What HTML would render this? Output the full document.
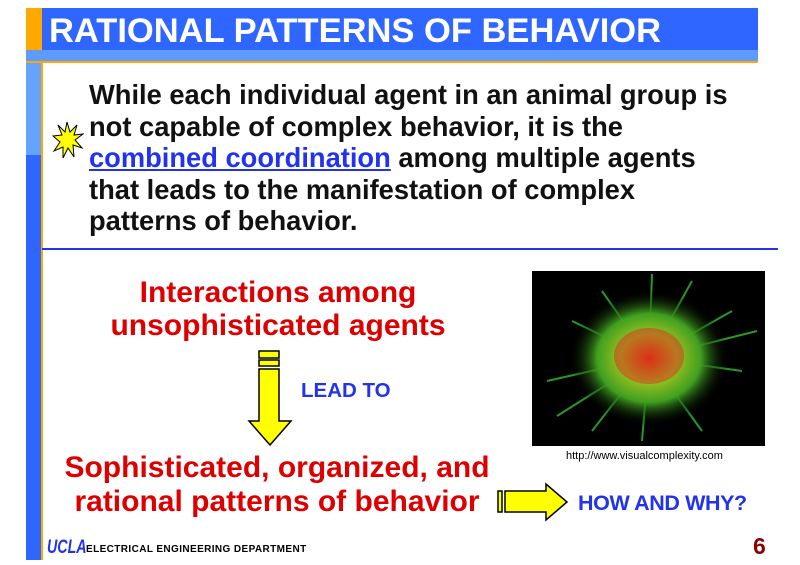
<!DOCTYPE html>
<html><head><meta charset="utf-8"><style>
body{margin:0;width:800px;height:565px;background:#fff;position:relative;overflow:hidden;font-family:"Liberation Sans",Arial,sans-serif}
.a{position:absolute;white-space:nowrap}
.body{left:89px;top:79px;font-size:27.3px;font-weight:bold;line-height:31.6px;color:#111}
.red{color:#dd0000;font-weight:bold;font-size:30px;text-align:center}
</style></head><body>
<div class="a" style="left:26px;top:8px;width:732px;height:42px;background:#2f66ff"></div>
<div class="a" style="left:26px;top:8px;width:16px;height:42px;background:#ffa800"></div>
<div class="a" style="left:26px;top:50px;width:732px;height:11px;background:#5f9bff"></div>
<div class="a" style="left:26px;top:61px;width:732px;height:2px;background:#ffa800"></div>
<div class="a" style="left:26px;top:63px;width:16px;height:92px;background:#66a3ff"></div>
<div class="a" style="left:26px;top:155px;width:16px;height:405px;background:#2f66ff"></div>
<div class="a" style="left:41px;top:63px;width:2px;height:497px;background:#ffa800"></div>
<div class="a" style="left:42px;top:248px;width:736px;height:2px;background:#2233ee"></div>
<div class="a" style="left:49px;top:10px;font-size:34.5px;font-weight:bold;color:#fff;line-height:42px">RATIONAL PATTERNS OF BEHAVIOR</div>
<svg class="a" style="left:52px;top:120px" width="32" height="40" viewBox="0 0 32 40"><polygon points="15,2 18,12 25,5 22,15 31,14 23,20 30,28 21,25 22,37 16,28 11,38 11,27 2,31 8,22 1,16 10,15 6,5 13,12" fill="#ffff00" stroke="#000" stroke-width="1"/></svg>
<div class="a body">While each individual agent in an animal group is<br>not capable of complex behavior, it is the<br><span style="color:#2233ee;text-decoration:underline">combined coordination</span> among multiple agents<br>that leads to the manifestation of complex<br>patterns of behavior.</div>
<div class="a red" style="left:78px;width:400px;top:276px;line-height:33px">Interactions among<br>unsophisticated agents</div>
<svg class="a" style="left:246px;top:349px" width="50" height="100"><rect x="13" y="2" width="20" height="7" fill="#ffff00" stroke="#000" stroke-width="1.5"/><rect x="13" y="11" width="20" height="6" fill="#ffff00" stroke="#000" stroke-width="1.5"/><polygon points="13,20 33,20 33,72 45,72 24,96 3,72 13,72" fill="#ffff00" stroke="#000" stroke-width="1.5"/></svg>
<div class="a" style="left:301px;top:379px;font-size:20.5px;font-weight:bold;color:#2233ee">LEAD TO</div>
<div class="a red" style="left:27px;width:500px;top:451px;line-height:34px">Sophisticated, organized, and<br>rational patterns of behavior</div>
<svg class="a" style="left:495px;top:482px" width="76" height="42"><rect x="3" y="9" width="4" height="21" fill="#ffff00" stroke="#000" stroke-width="1.5"/><polygon points="10,9 51,9 51,2 72,20 51,38 51,30 10,30" fill="#ffff00" stroke="#000" stroke-width="1.5"/></svg>
<div class="a" style="left:578px;top:491px;font-size:21.5px;font-weight:bold;color:#2233ee;letter-spacing:-0.4px">HOW AND WHY?</div>
<svg class="a" style="left:532px;top:271px" width="233" height="175">
<defs><radialGradient id="g" cx="0.5" cy="0.5" r="0.5"><stop offset="0" stop-color="#e03010"/><stop offset="0.35" stop-color="#9ac020"/><stop offset="0.65" stop-color="#40a020"/><stop offset="1" stop-color="#000" stop-opacity="0"/></radialGradient></defs>
<rect width="233" height="175" fill="#000"/>
<g stroke="#30c030" stroke-width="2" opacity="0.8">
<line x1="117" y1="87" x2="120" y2="3"/><line x1="117" y1="87" x2="40" y2="50"/><line x1="117" y1="87" x2="25" y2="145"/><line x1="117" y1="87" x2="200" y2="40"/><line x1="117" y1="87" x2="210" y2="100"/><line x1="117" y1="87" x2="110" y2="170"/><line x1="117" y1="87" x2="70" y2="20"/><line x1="117" y1="87" x2="170" y2="160"/><line x1="117" y1="87" x2="15" y2="110"/><line x1="117" y1="87" x2="160" y2="10"/><line x1="117" y1="87" x2="60" y2="160"/><line x1="117" y1="87" x2="225" y2="60"/></g>
<ellipse cx="117" cy="87" rx="80" ry="68" fill="url(#g)"/>
<ellipse cx="117" cy="85" rx="35" ry="28" fill="#d83020" opacity="0.5"/>
</svg>
<div class="a" style="left:566px;top:450px;font-size:11px;color:#000">http://www.visualcomplexity.com</div>
<div class="a" style="left:47px;top:537px;font-size:19px;font-weight:bold;font-style:italic;color:#2233ee;transform:scaleX(0.75);transform-origin:0 0">UCLA</div>
<div class="a" style="left:86px;top:544px;font-size:10px;font-weight:bold;color:#000;letter-spacing:0.4px">ELECTRICAL ENGINEERING DEPARTMENT</div>
<div class="a" style="left:753px;top:533px;font-size:23px;font-weight:bold;color:#8b0000">6</div>
</body></html>
